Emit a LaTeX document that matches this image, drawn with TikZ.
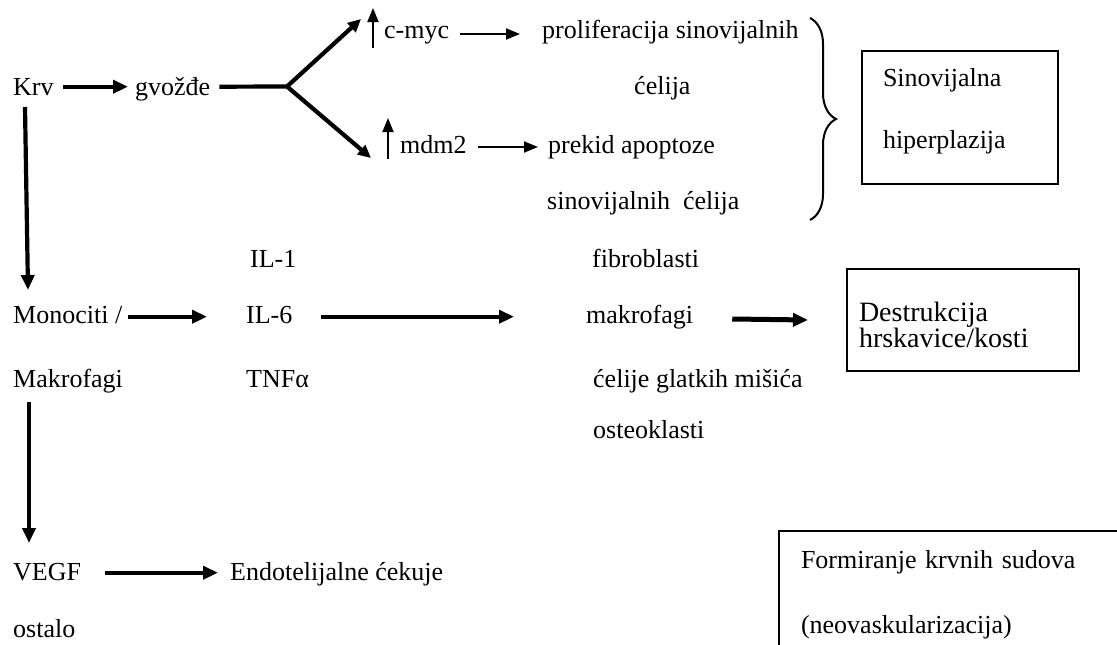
\documentclass[tikz,border=0pt]{standalone}
\usepackage{fontspec}
\setmainfont{Liberation Serif}
\usetikzlibrary{arrows.meta,decorations.pathreplacing}
\begin{document}
\begin{tikzpicture}[x=1pt,y=-1pt,
  txt/.style={anchor=base west,inner sep=0pt,font=\fontsize{26}{31}\selectfont},
  boxnode/.style={draw,line width=2pt,anchor=north west,inner ysep=0pt,align=left},
  bigarrow/.style={line width=4.2pt,-{Triangle[length=15pt,width=13pt]}},
  forkarrows/.style={line width=4.2pt,{Triangle[length=13pt,width=12pt]}-{Triangle[length=13pt,width=12pt]}},
  smallarrow/.style={line width=2pt,-{Triangle[length=14pt,width=11pt]}},
  thickline/.style={line width=4.2pt},
  bracestyle/.style={line width=2pt,decorate,decoration={brace,amplitude=26pt}},
]
\fill[white] (0,0) rectangle (1117,645);
\clip (0,0) rectangle (1117,645);

% top part
\node[txt] (krv) at (13,95) {Krv};
\node[txt] (gvo) at (135,95) {gvožđe};
\node[txt] (cmyc) at (384,38) {c-myc};
\node[txt] (mdm) at (400,153) {mdm2};
\node[txt] (prolif) at (542,38) {proliferacija sinovijalnih};
\node[txt] (celija) at (634,94) {ćelija};
\node[txt] (prekid) at (548,153) {prekid apoptoze};
\node[txt] (sinc) at (547,209) {sinovijalnih\ \ ćelija};
\node[boxnode,text width=154pt,inner xsep=21pt,font=\fontsize{26}{31}\selectfont] (sinbox) at (861,50)
  {\rule{0pt}{35pt}Sinovijalna\\[31pt]hiperplazija\rule[-36pt]{0pt}{36pt}};

\coordinate (fork) at (287,86.5);
\coordinate (tipA) at (361,19);
\coordinate (tipB) at (371,158);

\draw[bigarrow] ([shift={(9,-8.3)}]krv.base east) -- ([shift={(-7,-8.3)}]gvo.base west);
\draw[thickline] ([shift={(9,-8.3)}]gvo.base east) -- (fork);
\draw[forkarrows] (tipA) -- (fork) -- (tipB);
\draw[smallarrow] ([shift={(-11,10)}]cmyc.base west) -- ([shift={(-11,-30)}]cmyc.base west);
\draw[smallarrow] ([shift={(-12,6)}]mdm.base west) -- ([shift={(-12,-35)}]mdm.base west);
\draw[smallarrow] ([shift={(11,-4)}]cmyc.base east) -- ([shift={(-22,-4)}]prolif.base west);
\draw[smallarrow] ([shift={(11.5,-6)}]mdm.base east) -- ([shift={(-10,-6)}]prekid.base west);
\draw[bracestyle] (810,18) -- (810,220);

% middle part
\node[txt] (il1) at (250,267) {IL-1};
\node[txt] (fibro) at (592,267) {fibroblasti};
\node[txt] (mono) at (13,323) {Monociti /};
\node[txt] (il6) at (246,323) {IL-6};
\node[txt] (makro) at (586,323) {makrofagi};
\node[boxnode,text width=208pt,inner xsep=12pt,font=\fontsize{28}{26}\selectfont] (destbox) at (846,268)
  {\rule{0pt}{52pt}Destrukcija\\hrskavice/kosti\rule[-24pt]{0pt}{24pt}};
\node[txt] (makro2) at (13,387) {Makrofagi};
\node[txt] (tnf) at (246,387) {TNFα};
\node[txt] (glatki) at (593,387) {ćelije glatkih mišića};
\node[txt] (osteo) at (593,438) {osteoklasti};

\draw[bigarrow] ([shift={(12,12)}]krv.base west) -- ([shift={(15,-33)}]mono.base west);
\draw[bigarrow] ([shift={(6,-6.3)}]mono.base east) -- ([shift={(-39,-6.3)}]il6.base west);
\draw[bigarrow] ([shift={(28,-6.3)}]il6.base east) -- ([shift={(-72,-6.3)}]makro.base west);
\draw[bigarrow,line width=5pt] ([shift={(39,-4)}]makro.base east) -- ([xshift=-38pt]destbox.west);

% bottom part
\node[txt] (vegf) at (13,580) {VEGF};
\node[txt] (endo) at (230,580) {Endotelijalne ćekuje};
\node[txt] (ostalo) at (13,637) {ostalo};
\node[boxnode,text width=316pt,inner xsep=22pt,font=\fontsize{26}{31}\selectfont] (formbox) at (778,530)
  {\rule{0pt}{37pt}Formiranje krvnih sudova\\[34pt](neovaskularizacija)\rule[-30pt]{0pt}{30pt}};

\draw[bigarrow] ([shift={(16,15)}]makro2.base west) -- ([shift={(16,-37)}]vegf.base west);
\draw[bigarrow] ([shift={(24,-7.3)}]vegf.base east) -- ([shift={(-12,-7.3)}]endo.base west);
\end{tikzpicture}
\end{document}
